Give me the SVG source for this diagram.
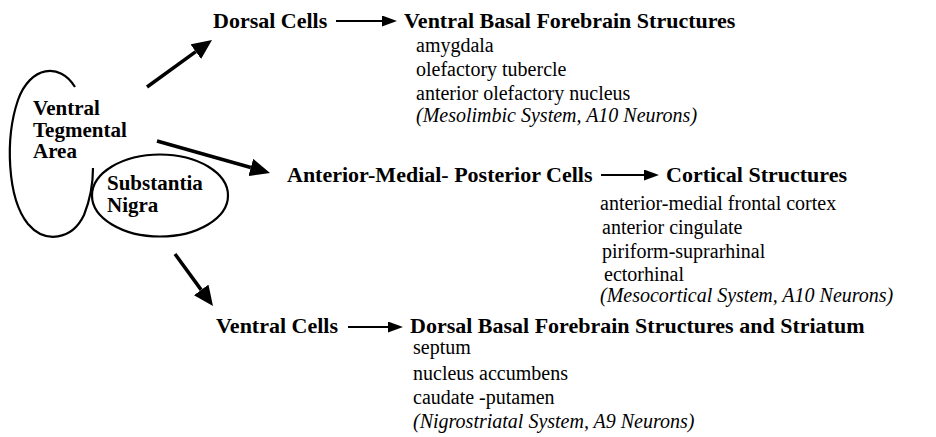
<svg xmlns="http://www.w3.org/2000/svg" width="936" height="437" viewBox="0 0 936 437">
<style>
.big{stroke:#000;stroke-width:3.5;fill:none}
.sm{stroke:#000;stroke-width:2;fill:none}
.outline{stroke:#000;stroke-width:2.2;fill:none}
</style>
<defs>
<marker id="ah" markerUnits="userSpaceOnUse" viewBox="0 0 20 18" refX="0" refY="9" markerWidth="20" markerHeight="18" orient="auto">
<path d="M0,0 L20,9 L0,18 z" fill="#000"/>
</marker>
<marker id="as" markerUnits="userSpaceOnUse" viewBox="0 0 15 11" refX="0" refY="5.5" markerWidth="15" markerHeight="11" orient="auto">
<path d="M0,0 L15,5.5 L0,11 z" fill="#000"/>
</marker>
</defs>

<g id="vta">
<path class="outline" d="M75,87 C60,62 30,66 18,100 C5,138 7,198 28,224 C45,244 72,240 84,215 C90,200 93,182 93,168"/>
<g font-family="Liberation Serif" font-weight="bold" font-size="21" fill="#000">
<text x="33" y="115">Ventral</text>
<text x="33" y="137">Tegmental</text>
<text x="33" y="158">Area</text>
</g>
</g>

<g id="sn">
<ellipse class="outline" cx="160" cy="195.5" rx="68" ry="41"/>
<g font-family="Liberation Serif" font-weight="bold" font-size="21" fill="#000">
<text x="107" y="190">Substantia</text>
<text x="107" y="212">Nigra</text>
</g>
</g>

<g id="connectors">
<line class="big" x1="147" y1="87" x2="195.8" y2="51.7" marker-end="url(#ah)"/>
<line class="big" x1="157" y1="141" x2="250.8" y2="167.5" marker-end="url(#ah)"/>
<line class="big" x1="175" y1="254" x2="201.2" y2="289.9" marker-end="url(#ah)"/>
<line class="sm" x1="336" y1="21" x2="382" y2="21" marker-end="url(#as)"/>
<line class="sm" x1="601" y1="175" x2="644" y2="175" marker-end="url(#as)"/>
<line class="sm" x1="348" y1="327" x2="388" y2="327" marker-end="url(#as)"/>
</g>

<g id="dorsal-cells" font-family="Liberation Serif" font-weight="bold" font-size="22" fill="#000">
<text x="213" y="28">Dorsal Cells</text>
</g>
<g id="ventral-basal" font-family="Liberation Serif" font-size="20" fill="#000">
<text font-weight="bold" font-size="22" x="404" y="28">Ventral Basal Forebrain Structures</text>
<text x="416" y="52">amygdala</text>
<text x="416" y="76">olefactory tubercle</text>
<text x="416" y="100">anterior olefactory nucleus</text>
<text font-style="italic" x="416" y="122">(Mesolimbic System, A10 Neurons)</text>
</g>

<g id="amp-cells" font-family="Liberation Serif" font-weight="bold" font-size="22" fill="#000">
<text x="287" y="182">Anterior-Medial- Posterior Cells</text>
</g>
<g id="cortical" font-family="Liberation Serif" font-size="20" fill="#000">
<text font-weight="bold" font-size="22" x="666" y="182">Cortical Structures</text>
<text x="600" y="210">anterior-medial frontal cortex</text>
<text x="602" y="234">anterior cingulate</text>
<text x="602" y="258">piriform-suprarhinal</text>
<text x="604" y="281">ectorhinal</text>
<text font-style="italic" x="600" y="302">(Mesocortical System, A10 Neurons)</text>
</g>

<g id="ventral-cells" font-family="Liberation Serif" font-weight="bold" font-size="22" fill="#000">
<text x="216" y="333">Ventral Cells</text>
</g>
<g id="dorsal-basal" font-family="Liberation Serif" font-size="20" fill="#000">
<text font-weight="bold" font-size="22" x="410" y="333">Dorsal Basal Forebrain Structures and Striatum</text>
<text x="413" y="354">septum</text>
<text x="413" y="380">nucleus accumbens</text>
<text x="413" y="404">caudate -putamen</text>
<text font-style="italic" x="413" y="428">(Nigrostriatal System, A9 Neurons)</text>
</g>
</svg>
